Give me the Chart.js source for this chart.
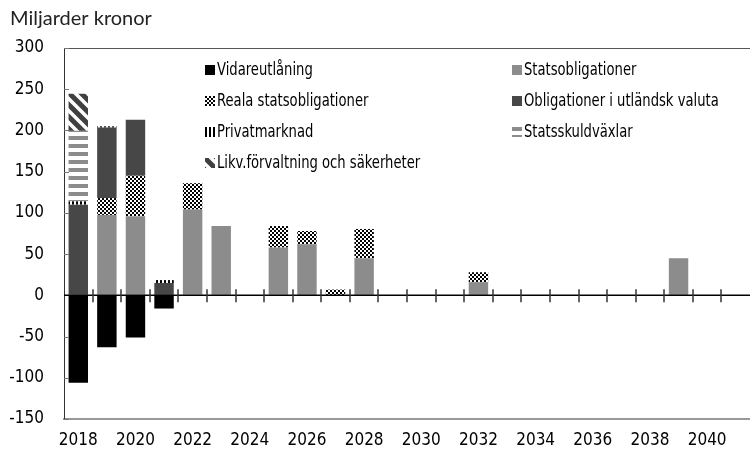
<!DOCTYPE html>
<html>
<head>
<meta charset="utf-8">
<script src="https://cdn.jsdelivr.net/npm/chart.js@4/dist/chart.umd.min.js"></script>
<style>
  body { margin: 0; background: #fff; }
  canvas { display: block; }
</style>
</head>
<body>
<canvas id="chart" width="750" height="455"></canvas>
<script>
// years on the x axis
const years = ['2018','2019','2020','2021','2022','2023','2024','2025','2026','2027','2028','2029',
               '2030','2031','2032','2033','2034','2035','2036','2037','2038','2039','2040','2041'];

const vidareutlaning = [-106, -63, -51, -16, null, null, null, null, null, null, null, null,
                        null, null, null, null, null, null, null, null, null, null, null, null];
const statsobligationer = [null, 97.5, 96, null, 104, 84, null, 58, 62, null, 45, null,
                           null, null, 16, null, null, null, null, null, null, 45, null, null];
const realaStatsobl = [null, 20.5, 49, null, 32, null, null, 26, 16, 7, 35.5, null,
                       null, null, 12, null, null, null, null, null, null, null, null, null];
const utlandskValuta = [110, 85.5, 68, 15, null, null, null, null, null, null, null, null,
                        null, null, null, null, null, null, null, null, null, null, null, null];
const privatmarknad = [4, 1.5, null, 3.5, null, null, null, null, null, null, null, null,
                       null, null, null, null, null, null, null, null, null, null, null, null];
const statsskuldvaxlar = [85.5, null, null, null, null, null, null, null, null, null, null, null,
                          null, null, null, null, null, null, null, null, null, null, null, null];
const likvForvaltning = [45, null, null, null, null, null, null, null, null, null, null, null,
                         null, null, null, null, null, null, null, null, null, null, null, null];

const yTicks = [-150, -100, -50, 0, 50, 100, 150, 200, 250, 300];

const FONT = '"Liberation Sans Narrow", "Arial Narrow", "DejaVu Sans Condensed", sans-serif';

// fill patterns
function makePattern(w, h, draw) {
    const c = document.createElement('canvas');
    c.width = w; c.height = h;
    const g = c.getContext('2d');
    g.fillStyle = '#fff';
    g.fillRect(0, 0, w, h);
    draw(g);
    return g.createPattern(c, 'repeat');
}

const ctx = document.getElementById('chart').getContext('2d');

const checker = makePattern(4, 4, g => {
    g.fillStyle = '#000';
    g.fillRect(0, 0, 2, 2);
    g.fillRect(2, 2, 2, 2);
});
const vStripes = makePattern(4, 4, g => {
    g.fillStyle = '#000';
    g.fillRect(0, 0, 2, 4);
});
const hStripes = makePattern(8, 8, g => {
    g.fillStyle = '#8c8c8c';
    g.fillRect(0, 0, 8, 4);
});
const diag = makePattern(12, 12, g => {
    g.strokeStyle = '#404040';
    g.lineWidth = 5;
    g.beginPath();
    g.moveTo(-6, -6); g.lineTo(18, 18);
    g.moveTo(-6, 6); g.lineTo(6, 18);
    g.moveTo(6, -6); g.lineTo(18, 6);
    g.stroke();
});

const datasets = [
    { label: 'Vidareutlåning', data: vidareutlaning, backgroundColor: '#000000' },
    { label: 'Statsobligationer', data: statsobligationer, backgroundColor: '#8c8c8c' },
    { label: 'Reala statsobligationer', data: realaStatsobl, backgroundColor: checker },
    { label: 'Obligationer i utländsk valuta', data: utlandskValuta, backgroundColor: '#474747' },
    { label: 'Privatmarknad', data: privatmarknad, backgroundColor: vStripes },
    { label: 'Statsskuldväxlar', data: statsskuldvaxlar, backgroundColor: hStripes },
    { label: 'Likv.förvaltning och säkerheter', data: likvForvaltning, backgroundColor: diag }
];
datasets.forEach(d => {
    d.barPercentage = 0.68;
    d.categoryPercentage = 1;
    d.borderWidth = 0;
});

// frame, zero line with ticks, y ticks, legend and unit label
const extras = {
    id: 'extras',
    afterDatasetsDraw(chart) {
        const c = chart.ctx;
        const a = chart.chartArea;
        const y = chart.scales.y;
        const x = chart.scales.x;
        c.save();

        // top frame line
        c.strokeStyle = '#555';
        c.lineWidth = 1;
        c.beginPath();
        c.moveTo(a.left, a.top + 0.5);
        c.lineTo(a.right, a.top + 0.5);
        c.stroke();

        // inward y ticks
        c.strokeStyle = '#777';
        yTicks.forEach(v => {
            const py = Math.round(y.getPixelForValue(v)) + 0.5;
            c.beginPath();
            c.moveTo(a.left, py);
            c.lineTo(a.left + 5, py);
            c.stroke();
        });

        // zero line
        const y0 = y.getPixelForValue(0);
        c.strokeStyle = '#000';
        c.lineWidth = 1.5;
        c.beginPath();
        c.moveTo(a.left, y0);
        c.lineTo(a.right, y0);
        c.stroke();

        // category boundary ticks on the zero line
        const step = (a.right - a.left) / years.length;
        c.strokeStyle = '#333';
        c.lineWidth = 1.5;
        for (let i = 1; i < years.length; i++) {
            const px = Math.round(x.getPixelForValue(i) - step / 2);
            c.beginPath();
            c.moveTo(px, y0 - 6);
            c.lineTo(px, y0 + 7);
            c.stroke();
        }

        // legend, two columns
        c.font = '17px ' + FONT;
        c.textBaseline = 'middle';
        chart.data.datasets.forEach((d, i) => {
            const col = i % 2;
            const row = Math.floor(i / 2);
            const bx = col === 0 ? 205 : 512;
            const by = 70 + row * 31;
            c.save();
            c.translate(bx, by - 5);
            c.fillStyle = d.backgroundColor;
            c.fillRect(0, 0, 10, 10);
            c.restore();
            c.save();
            c.translate(bx + 12, by + 1);
            c.scale(0.86, 1);
            c.fillStyle = '#000';
            c.fillText(d.label, 0, 0);
            c.restore();
        });

        // unit label
        c.font = '20px Lato, "Open Sans", sans-serif';
        c.textBaseline = 'alphabetic';
        c.fillStyle = '#222';
        c.fillText('Miljarder kronor', 10, 25);

        c.restore();
    }
};

new Chart(ctx, {
    type: 'bar',
    data: {
        labels: years,
        datasets: datasets
    },
    options: {
        responsive: false,
        animation: false,
        devicePixelRatio: 1,
        layout: { padding: { top: 48, right: 0, left: 0, bottom: 0 } },
        plugins: {
            legend: { display: false },
            tooltip: { enabled: false }
        },
        scales: {
            x: {
                stacked: true,
                grid: { display: true, drawOnChartArea: false, drawTicks: false },
                border: { display: true, color: '#999', width: 2 },
                ticks: {
                    autoSkip: false,
                    maxRotation: 0,
                    padding: 11,
                    color: '#000',
                    font: { family: FONT, size: 17 },
                    callback: function (val, idx) {
                        return idx % 2 === 0 ? years[idx] : '';
                    }
                },
                afterFit: s => { s.height = 36; }
            },
            y: {
                stacked: true,
                min: -150,
                max: 300,
                grid: { display: true, drawOnChartArea: false, drawTicks: false },
                border: { display: true, color: '#333', width: 1 },
                ticks: {
                    stepSize: 50,
                    padding: 20,
                    color: '#000',
                    font: { family: FONT, size: 17 }
                },
                afterFit: s => { s.width = 64; }
            }
        }
    },
    plugins: [extras]
});
</script>
</body>
</html>
